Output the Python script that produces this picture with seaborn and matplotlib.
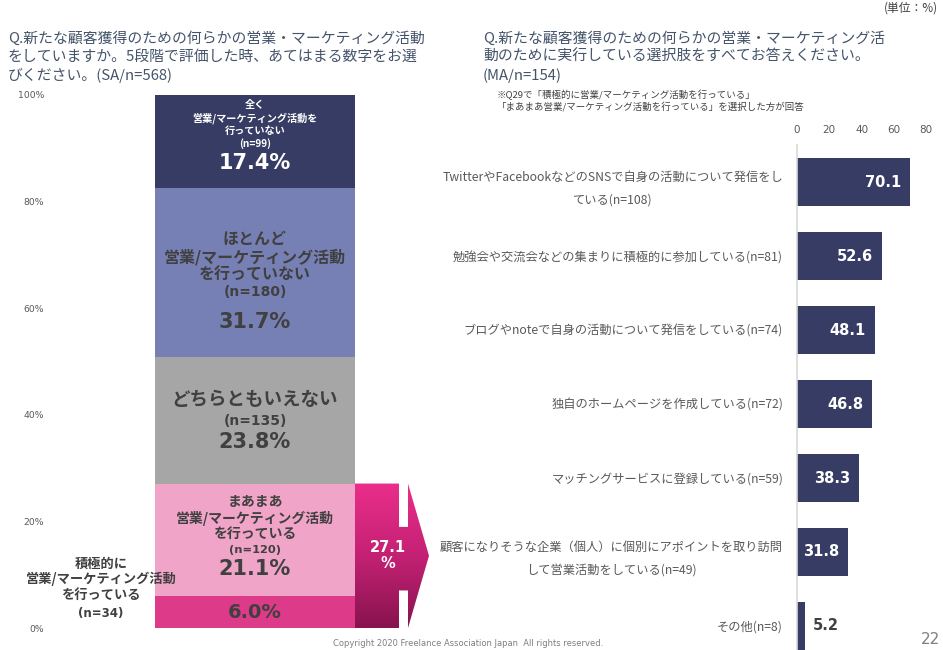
import numpy as np
import matplotlib
matplotlib.use("Agg")
import matplotlib.pyplot as plt
from matplotlib.patches import Polygon
from matplotlib.colors import LinearSegmentedColormap
import seaborn as sns

# 左：5段階評価（下から積み上げ順）
seg_labels = [
    "積極的に\n営業/マーケティング活動\nを行っている",
    "まあまあ\n営業/マーケティング活動\nを行っている",
    "どちらともいえない",
    "ほとんど\n営業/マーケティング活動\nを行っていない",
    "全く\n営業/マーケティング活動を\n行っていない",
]
seg_pct = [6.0, 21.1, 23.8, 31.7, 17.4]
seg_n = [34, 120, 135, 180, 99]
seg_colors = ["#DD3A89", "#F0A4C8", "#A6A6A6", "#7780B4", "#363C63"]

# 右：実行している活動（MA）
act_labels = [
    "TwitterやFacebookなどのSNSで自身の活動について発信をし\nている",
    "勉強会や交流会などの集まりに積極的に参加している",
    "ブログやnoteで自身の活動について発信をしている",
    "独自のホームページを作成している",
    "マッチングサービスに登録している",
    "顧客になりそうな企業（個人）に個別にアポイントを取り訪問\nして営業活動をしている",
    "その他",
]
act_pct = [70.1, 52.6, 48.1, 46.8, 38.3, 31.8, 5.2]
act_n = [108, 81, 74, 72, 59, 49, 8]

left_ticks = [0, 20, 40, 60, 80, 100]
right_ticks = [0, 20, 40, 60, 80]

NAVY = "#363C63"
DARK = "#404040"
TICK = "#595959"
TITLE = "#44546A"
NUM_FONT = ["DejaVu Sans"]

W, H = 943, 650


def fx(px):
    return px / W


def fy(py):
    return 1 - py / H


sns.set_theme(style="white")
plt.rcParams["font.family"] = ["Noto Sans CJK JP", "DejaVu Sans"]

fig = plt.figure(figsize=(W / 100, H / 100), dpi=100)
fig.patch.set_facecolor("white")

# ---------------- 左の積み上げ棒 ----------------
ax1 = fig.add_axes([fx(155), fy(628), 200 / W, 533 / H])
tops = np.cumsum(seg_pct)
bottoms = tops - np.array(seg_pct)
mids = bottoms + np.array(seg_pct) / 2

# 累積値を上から順に重ねて描く
for i in reversed(range(len(seg_pct))):
    sns.barplot(x=["all"], y=[tops[i]], color=seg_colors[i], saturation=1,
                width=1, linewidth=0, ax=ax1)

ax1.set_xlim(-0.5, 0.5)
ax1.set_ylim(0, 100)
ax1.set_yticks(left_ticks)
ax1.set_yticklabels([f"{t}%" for t in left_ticks], fontsize=6.7, color=TICK,
                    family=NUM_FONT)
ax1.tick_params(axis="y", length=0, pad=80)
ax1.set_xticks([])
ax1.set_xlabel("")
ax1.set_ylabel("")
for s in ax1.spines.values():
    s.set_visible(False)

# 全く
ax1.text(0, mids[4] + 3.2, f"{seg_labels[4]}\n(n={seg_n[4]})", ha="center", va="center",
         fontsize=7.3, fontweight="bold", color="white", linespacing=1.25)
ax1.text(0, mids[4] - 4.0, f"{seg_pct[4]:.1f}%", ha="center", va="center",
         fontsize=15, fontweight="bold", color="white", family=NUM_FONT)
# ほとんど
ax1.text(0, mids[3] + 2.85, seg_labels[3], ha="center", va="center",
         fontsize=11.5, fontweight="bold", color=DARK, linespacing=1.1)
ax1.text(0, mids[3] - 3.7, f"(n={seg_n[3]})", ha="center", va="center",
         fontsize=10, fontweight="bold", color=DARK, family=NUM_FONT)
ax1.text(0, mids[3] - 9.35, f"{seg_pct[3]:.1f}%", ha="center", va="center",
         fontsize=15, fontweight="bold", color=DARK, family=NUM_FONT)
# どちらともいえない
ax1.text(0, mids[2] + 3.8, seg_labels[2], ha="center", va="center",
         fontsize=13.3, fontweight="bold", color=DARK)
ax1.text(0, mids[2] - 0.2, f"(n={seg_n[2]})", ha="center", va="center",
         fontsize=10, fontweight="bold", color=DARK, family=NUM_FONT)
ax1.text(0, mids[2] - 4.1, f"{seg_pct[2]:.1f}%", ha="center", va="center",
         fontsize=15, fontweight="bold", color=DARK, family=NUM_FONT)
# まあまあ
ax1.text(0, mids[1] + 4.1, seg_labels[1], ha="center", va="center",
         fontsize=10, fontweight="bold", color=DARK, linespacing=1.08)
ax1.text(0, mids[1] - 1.9, f"(n={seg_n[1]})", ha="center", va="center",
         fontsize=8.2, fontweight="bold", color=DARK, family=NUM_FONT)
ax1.text(0, mids[1] - 5.45, f"{seg_pct[1]:.1f}%", ha="center", va="center",
         fontsize=15, fontweight="bold", color=DARK, family=NUM_FONT)
# 積極的に
ax1.text(0, mids[0], f"{seg_pct[0]:.1f}%", ha="center", va="center",
         fontsize=14, fontweight="bold", color=DARK, family=NUM_FONT)
ax1.text(-0.77, mids[0] + 6.2, seg_labels[0], ha="center", va="center",
         fontsize=9.5, fontweight="bold", color=DARK, linespacing=1.12, clip_on=False)
ax1.text(-0.77, mids[0] - 0.2, f"(n={seg_n[0]})", ha="center", va="center",
         fontsize=8.5, fontweight="bold", color=DARK, family=NUM_FONT, clip_on=False)

# ---------------- 矢印（グラデーション） ----------------
active_total = seg_pct[0] + seg_pct[1]
ax_arr = fig.add_axes([fx(355), fy(628), 76 / W, 533 / H])
ax_arr.set_axis_off()
arrow_xy = [
    (0, active_total), (44, active_total), (44, active_total * 0.70),
    (53, active_total * 0.70), (53, active_total), (74, active_total / 2),
    (53, 0), (53, active_total * 0.26), (44, active_total * 0.26), (44, 0), (0, 0),
]
poly = Polygon(arrow_xy, closed=True, facecolor="none", edgecolor="none")
ax_arr.add_patch(poly)
grad_cmap = LinearSegmentedColormap.from_list("pink", ["#87134E", "#C42174", "#EA2E8A"])
grad = np.linspace(0, 1, 256).reshape(-1, 1)
im = ax_arr.imshow(grad, cmap=grad_cmap, origin="lower", aspect="auto",
                   extent=(0, 76, 0, active_total))
im.set_clip_path(poly)
ax_arr.set_xlim(0, 76)
ax_arr.set_ylim(0, 100)
ax_arr.text(33, active_total / 2, f"{active_total:.1f}\n%", ha="center", va="center",
            fontsize=10.5, fontweight="bold", color="white", family=NUM_FONT,
            linespacing=1.1)

# ---------------- 右の横棒 ----------------
ax2 = fig.add_axes([fx(797), fy(663), 129 / W, 518 / H])
ylabels = [f"{lab}(n={n})" for lab, n in zip(act_labels, act_n)]
sns.barplot(x=act_pct, y=ylabels, orient="h", color=NAVY, saturation=1,
            width=0.66, linewidth=0, ax=ax2)
ax2.set_xlim(0, 80)
ax2.set_xticks(right_ticks)
ax2.xaxis.tick_top()
ax2.set_xticklabels([str(t) for t in right_ticks], fontsize=7.5, color=TICK,
                    family=NUM_FONT)
ax2.tick_params(axis="x", length=0, pad=7)
ax2.tick_params(axis="y", length=0, pad=10, labelsize=8.8, labelcolor=TICK)
for t in ax2.get_yticklabels():
    t.set_multialignment("center")
    t.set_linespacing(2.0)
ax2.set_xlabel("")
ax2.set_ylabel("")
for name, s in ax2.spines.items():
    s.set_visible(name == "left")
ax2.spines["left"].set_color("#D9D9D9")
ax2.spines["left"].set_linewidth(1.2)

for i, v in enumerate(act_pct):
    if v > 10:
        ax2.text(v - 5.5, i, f"{v:.1f}", ha="right", va="center", fontsize=10.5,
                 fontweight="bold", color="white", family=NUM_FONT)
    else:
        ax2.text(v + 4.3, i, f"{v:.1f}", ha="left", va="center", fontsize=10.5,
                 fontweight="bold", color=DARK, family=NUM_FONT)

# ---------------- タイトル・注記 ----------------
fig.text(fx(8), fy(31),
         "Q.新たな顧客獲得のための何らかの営業・マーケティング活動\n"
         "をしていますか。5段階で評価した時、あてはまる数字をお選\n"
         "びください。(SA/n=568)",
         ha="left", va="top", fontsize=10.7, color=TITLE, linespacing=1.38)
fig.text(fx(483), fy(31),
         "Q.新たな顧客獲得のための何らかの営業・マーケティング活\n"
         "動のために実行している選択肢をすべてお答えください。\n"
         "(MA/n=154)",
         ha="left", va="top", fontsize=10.7, color=TITLE, linespacing=1.38)
fig.text(fx(938), fy(8), "(単位：%)", ha="right", va="center", fontsize=8.5, color=DARK)
fig.text(fx(497), fy(101),
         "※Q29で「積極的に営業/マーケティング活動を行っている」\n"
         "「まあまあ営業/マーケティング活動を行っている」を選択した方が回答",
         ha="left", va="center", fontsize=6.8, color=DARK, linespacing=1.25)
fig.text(fx(468), fy(643),
         "Copyright 2020 Freelance Association Japan  All rights reserved.",
         ha="center", va="center", fontsize=6, color="#7F7F7F", family=NUM_FONT)
fig.text(fx(940), fy(640), "22", ha="right", va="center", fontsize=11,
         color="#7F7F7F", family=NUM_FONT)

fig.savefig("out.png", dpi=100)
